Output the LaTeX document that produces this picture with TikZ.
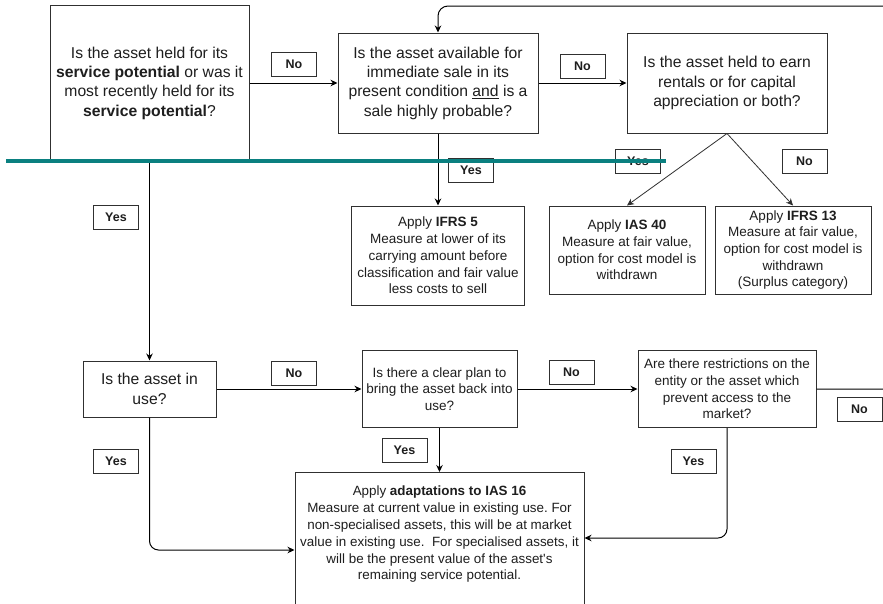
\documentclass[tikz,border=0pt]{standalone}
\usepackage{fontspec}
\setmainfont{Liberation Sans}
\usetikzlibrary{arrows.meta}
\frenchspacing
\definecolor{ink}{HTML}{1E1E1E}
\definecolor{edge}{HTML}{303030}
\definecolor{tealbar}{RGB}{10,128,128}
\tikzset{
  bigq/.style={draw=edge, line width=1pt, fill=white, text=ink, align=center, inner sep=0pt,
    font=\fontsize{15.7}{19.3}\selectfont},
  smallq/.style={bigq, font=\fontsize{13.5}{16.7}\selectfont},
  lbl/.style={draw=edge, line width=1pt, fill=white, text=ink, minimum width=45, minimum height=24,
    inner sep=0pt, font=\bfseries\fontsize{12.5}{14}\selectfont},
  arr/.style={draw=black, line width=1pt, -{Stealth[length=7pt,width=6.5pt]}},
  thinarr/.style={draw=edge, line width=0.8pt, -{Stealth[length=7pt,width=6.5pt]}},
}
\begin{document}
\begin{tikzpicture}[x=1pt,y=-1pt]
\useasboundingbox (0,0) rectangle (883,603);
\clip (0,0) rectangle (883,603);
\fill[white] (0,0) rectangle (883,603);

% question and outcome boxes
\node[bigq, minimum width=199, minimum height=156] (A) at (149.5,83) {Is the asset held for its\\\textbf{service potential} or was it\\most recently held for its\\\textbf{service potential}?};
\node[bigq, minimum width=200, minimum height=100] (B) at (438,83) {Is the asset available for\\immediate sale in its\\present condition \underline{and} is a\\sale highly probable?};
\node[bigq, minimum width=200, minimum height=100] (C) at (727,83) {Is the asset held to earn\\rentals or for capital\\appreciation or both?};
\node[smallq, minimum width=173, minimum height=99] (F5) at (438,255.5) {Apply \textbf{IFRS 5}\\Measure at lower of its\\carrying amount before\\classification and fair value\\less costs to sell};
\node[smallq, minimum width=156, minimum height=88] (I40) at (627,250) {Apply \textbf{IAS 40}\\Measure at fair value,\\option for cost model is\\withdrawn};
\node[smallq, minimum width=156, minimum height=88] (F13) at (793,250) {Apply \textbf{IFRS 13}\\Measure at fair value,\\option for cost model is\\withdrawn\\(Surplus category)};
\node[bigq, minimum width=133, minimum height=56] (U) at (149.5,389) {Is the asset in\\use?};
\node[smallq, minimum width=155, minimum height=77] (P) at (439.5,389) {Is there a clear plan to\\bring the asset back into\\use?};
\node[smallq, minimum width=178, minimum height=77] (R) at (727,389) {Are there restrictions on the\\entity or the asset which\\prevent access to the\\market?};
\node[smallq, minimum width=289, minimum height=150, anchor=north] (Z) at (439.5,472) {};
\node[text=ink, align=center, inner sep=0pt, anchor=north, font=\fontsize{13.4}{16.8}\selectfont] (Zt) at (439.5,486)
  {Apply \textbf{adaptations to IAS 16}\\Measure at current value in existing use. For\\non-specialised assets, this will be at market\\value in existing use.\ \ For specialised assets, it\\will be the present value of the asset\textquotesingle s\\remaining service potential.};

% connectors
\draw[arr] (A) -- (B);
\draw[arr] (B) -- (C);
\draw[arr] (B) -- (F5);
\draw[thinarr] (C.south) -- (I40.north);
\draw[thinarr] (C.south) -- (F13.north);
\draw[arr] (A) -- (U);
\draw[arr] (U) -- (P);
\draw[arr] (P) -- (R);
\draw[arr] (P) -- (Z);
\draw[arr, rounded corners=9] (U.south) |- ([yshift=-78pt]Z.north west);
\draw[arr, rounded corners=9] (R.south) |- ([yshift=-66pt]Z.north east);
\coordinate (loopR) at (905,6);
\draw[arr, rounded corners=10] (R.east) -| (loopR) -| (B.north);

% labels
\node[lbl] (noA) at (294,64) {No};
\node[lbl] (noB) at (582.5,66.5) {No};
\node[lbl] (yesB) at (471,170.5) {Yes};
\node[lbl] (yesC) at (638,161) {Yes};
\node[lbl] (noC) at (804.5,161.5) {No};
\node[lbl] (yesA) at (116,217) {Yes};
\node[lbl] (noU) at (294,373.5) {No};
\node[lbl] (yesU) at (116,461) {Yes};
\node[lbl] (noP) at (571.5,372) {No};
\node[lbl] (yesP) at (404.5,450) {Yes};
\node[lbl] (yesR) at (693.5,461) {Yes};
\node[lbl] (noR) at (859.5,409) {No};

% teal bar across the top
\draw[tealbar, line width=4pt] (6,161) -- (666,161);
\end{tikzpicture}
\end{document}
